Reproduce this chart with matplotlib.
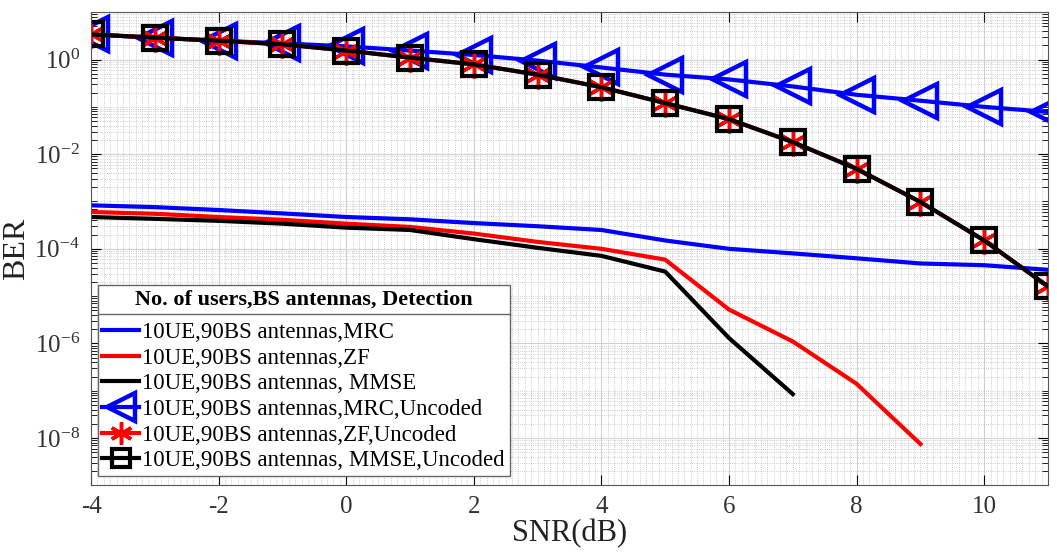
import numpy as np
import matplotlib
matplotlib.use('Agg')
import matplotlib.pyplot as plt
from matplotlib.lines import Line2D
from matplotlib.ticker import MultipleLocator, LogLocator, NullFormatter

plt.rcParams['font.family'] = ['Liberation Serif', 'DejaVu Serif']
plt.rcParams['mathtext.fontset'] = 'stix'
plt.rcParams['axes.unicode_minus'] = False

snr = [-4, -3, -2, -1, 0, 1, 2, 3, 4, 5, 6, 7, 8, 9, 10, 11]

ber_mrc = [8.3e-4, 7.6e-4, 6.6e-4, 5.6e-4, 4.7e-4, 4.2e-4, 3.5e-4, 3.0e-4,
           2.5e-4, 1.5e-4, 1.0e-4, 8.0e-5, 6.3e-5, 4.9e-5, 4.5e-5, 3.6e-5]
snr_zf = [-4, -3, -2, -1, 0, 1, 2, 3, 4, 5, 6, 7, 8, 9]
ber_zf = [6.0e-4, 5.5e-4, 4.7e-4, 4.1e-4, 3.4e-4, 2.9e-4, 2.1e-4, 1.4e-4,
          1.0e-4, 5.9e-5, 5.2e-6, 1.1e-6, 1.4e-7, 7.5e-9]
snr_mmse = [-4, -3, -2, -1, 0, 1, 2, 3, 4, 5, 6, 7]
ber_mmse = [4.7e-4, 4.3e-4, 3.9e-4, 3.4e-4, 2.8e-4, 2.5e-4, 1.6e-4, 1.05e-4,
            7.1e-5, 3.3e-5, 1.3e-6, 8.5e-8]

ber_mrc_unc = [3.4, 2.9, 2.5, 2.2, 1.9, 1.55, 1.25, 0.95,
               0.68, 0.48, 0.38, 0.27, 0.18, 0.135, 0.1, 0.078]
ber_zf_unc = [3.4, 2.9, 2.5, 2.1, 1.55, 1.1, 0.79, 0.48,
              0.26, 0.12, 0.055, 0.018, 4.9e-3, 9.8e-4, 1.5e-4, 1.6e-5]
ber_mmse_unc = ber_zf_unc

labels = ['10UE,90BS antennas,MRC',
          '10UE,90BS antennas,ZF',
          '10UE,90BS antennas, MMSE',
          '10UE,90BS antennas,MRC,Uncoded',
          '10UE,90BS antennas,ZF,Uncoded',
          '10UE,90BS antennas, MMSE,Uncoded']

fig = plt.figure(figsize=(10.57, 5.56), dpi=100)
ax = fig.add_axes([0.0861, 0.127, 0.9054, 0.851])

ax.semilogy(snr, ber_mrc, color='#0000ff', lw=3, label=labels[0])
ax.semilogy(snr_zf, ber_zf, color='#ff0000', lw=3, label=labels[1])
ax.semilogy(snr_mmse, ber_mmse, color='black', lw=3, label=labels[2])
ax.semilogy(snr, ber_mrc_unc, color='#0000ff', lw=3, marker='<', ms=25,
            mfc='none', mew=3.2, label=labels[3])
ax.semilogy(snr, ber_zf_unc, color='#ff0000', lw=3, marker=(6, 2, 0), ms=20,
            mew=2.5, label=labels[4])
ax.semilogy(snr, ber_mmse_unc, color='black', lw=3, marker='s', ms=17,
            mfc='none', mew=3, label=labels[5])

ax.set_xlim(-4, 11)
ax.set_ylim(1e-9, 10)
ax.xaxis.set_major_locator(MultipleLocator(2))
ax.xaxis.set_minor_locator(MultipleLocator(0.1))
ax.yaxis.set_major_locator(LogLocator(base=100, numticks=10))
ax.yaxis.set_minor_locator(LogLocator(base=10, subs=np.arange(1, 10), numticks=30))
ax.yaxis.set_minor_formatter(NullFormatter())

ax.grid(True, which='major', color='#d0d0d0', lw=0.8, ls='-')
ax.grid(True, which='minor', color='#bbbbbb', lw=0.6, ls=':')
ax.set_axisbelow(True)
ax.tick_params(which='both', direction='in', top=True, right=True)
ax.tick_params(which='major', length=7, labelsize=18, pad=8, labelcolor='#333333')
ax.tick_params(axis='x', which='minor', length=0)
ax.tick_params(axis='y', which='minor', length=4)
for s in ax.spines.values():
    s.set_color('#555555')

ax.set_xlabel('SNR(dB)', fontsize=22, labelpad=0, color='#222222')
ax.set_ylabel('BER', fontsize=23, labelpad=2, color='#222222')

leg = ax.legend(loc='lower left', bbox_to_anchor=(0.007, 0.02), fontsize=16.5,
                title='No. of users,BS antennas, Detection',
                title_fontproperties={'weight': 'bold', 'size': 16},
                handlelength=1.6, handletextpad=0.15, labelspacing=0.2,
                borderpad=0.2, borderaxespad=0.0, fancybox=False,
                framealpha=1, edgecolor='#666666', markerscale=0.8)
leg.get_frame().set_linewidth(1)
leg._legend_box.sep = 9

# separator line under the legend title
fig.canvas.draw()
fb = leg.get_frame().get_window_extent()
tb = leg.get_title().get_window_extent()
inv = fig.transFigure.inverted()
x0, y0 = inv.transform((fb.x0, tb.y0 - 4))
x1, _ = inv.transform((fb.x1, tb.y0 - 4))
fig.add_artist(Line2D([x0, x1], [y0, y0], color='#666666', lw=1,
                      transform=fig.transFigure, zorder=10))

fig.savefig('out.png', dpi=100)
